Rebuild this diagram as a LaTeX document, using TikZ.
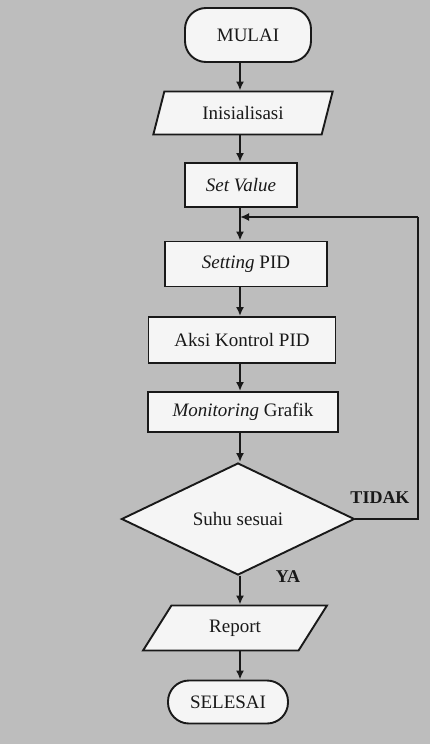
\documentclass[tikz,border=0pt]{standalone}
\usepackage{fontspec}
\setmainfont{Liberation Serif}
\usetikzlibrary{shapes.geometric,shapes.misc,arrows.meta}
\begin{document}
\begin{tikzpicture}[x=1pt,y=-1pt,
  every node/.style={font=\fontsize{19}{22}\selectfont, text=black!90},
  box/.style={draw=black!90, line width=1.9pt, fill=white!96!black, rectangle, inner sep=0pt},
  term/.style={box, rounded corners=21pt},
  io/.style={draw=black!90, line width=1.9pt, fill=white!96!black, trapezium, trapezium stretches=true, inner sep=0pt},
  dec/.style={draw=black!90, line width=1.9pt, fill=white!96!black, diamond, aspect=2, inner sep=0pt},
  lbl/.style={font=\fontsize{18}{20}\selectfont\bfseries},
  arr/.style={draw=black!90, line width=1.9pt, -{Latex[length=9pt,width=8pt]}},
  ln/.style={draw=black!90, line width=1.9pt}]
\useasboundingbox (0,0) rectangle (430,744);
\fill[black!26] (0,0) rectangle (430,744);
\node[term, minimum width=126pt, minimum height=54pt] (mulai) at (248,35) {MULAI};
\node[io, trapezium left angle=67, trapezium right angle=113, minimum width=181pt, minimum height=43pt] (init) at (243,113) {Inisialisasi};
\node[box, minimum width=112pt, minimum height=44pt] (setv) at (241,185) {\itshape Set Value};
\node[box, minimum width=162pt, minimum height=45pt] (setting) at (246,264) {\textit{Setting} PID};
\node[box, minimum width=187pt, minimum height=46pt] (aksi) at (242,340) {Aksi Kontrol PID};
\node[box, minimum width=190pt, minimum height=40pt] (mon) at (243,412) {\textit{Monitoring} Grafik};
\node[dec, minimum width=233pt, minimum height=112pt] (dia) at (238,519) {Suhu sesuai};
\node[io, trapezium left angle=55, trapezium right angle=125, minimum width=185pt, minimum height=45pt] (rep) at (235,628) {Report};
\node[term, minimum width=120pt, minimum height=43pt] (sel) at (228,702) {SELESAI};
\node[lbl] (tidak) at (380,498) {TIDAK};
\node[lbl] (ya) at (288,577) {YA};
\coordinate (spine) at (240,0);
\coordinate (fb) at (418,217);
\coordinate (join) at (240,217);
\draw[arr] (mulai.south -| spine) -- (init.north -| spine);
\draw[arr] (init.south -| spine) -- (setv.north -| spine);
\draw[arr] (setv.south -| spine) -- (setting.north -| spine);
\draw[arr] (setting.south -| spine) -- (aksi.north -| spine);
\draw[arr] (aksi.south -| spine) -- (mon.north -| spine);
\draw[arr] (mon.south -| spine) -- (dia.north -| spine);
\draw[arr] (dia.south -| spine) -- (rep.north -| spine);
\draw[arr] (rep.south -| spine) -- (sel.north -| spine);
\draw[ln] (dia.east) -| (fb);
\draw[arr] (fb) -- (join);
\end{tikzpicture}
\end{document}
